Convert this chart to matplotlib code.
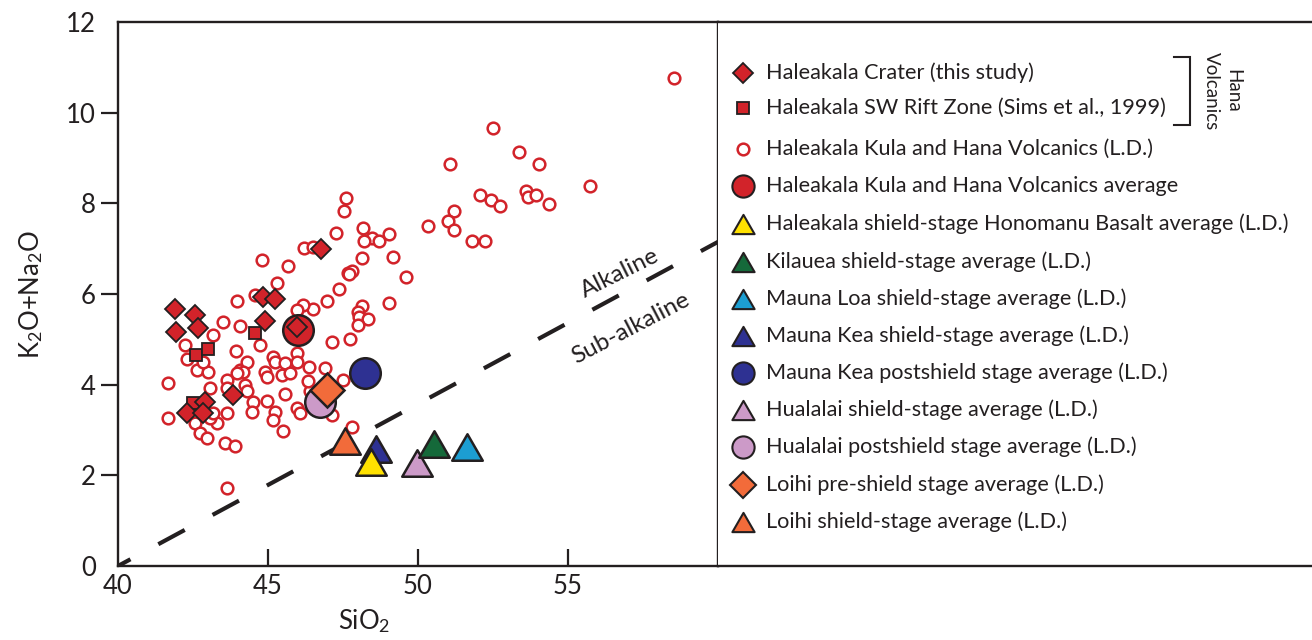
import matplotlib
matplotlib.use("Agg")
import matplotlib.pyplot as plt
from matplotlib.path import Path
from matplotlib.markers import MarkerStyle

plt.rcParams['font.family'] = ['Lato', 'DejaVu Sans']
plt.rcParams['mathtext.fontset'] = 'custom'
plt.rcParams['mathtext.rm'] = 'Lato'
plt.rcParams['mathtext.it'] = 'Lato:italic'
plt.rcParams['mathtext.bf'] = 'Lato:bold'

INK = '#231f20'
RED = '#d2232a'

# ---------------- data ----------------
# Haleakala Kula and Hana Volcanics (L.D.)
kula_sio2 = [44.79, 45.68, 45.29, 47.38, 46.96, 46.51, 46.18, 45.96, 43.96, 43.51,
             44.07, 43.18, 42.23, 42.31, 43.93, 44.73, 45.96, 47.12, 42.62, 43.01,
             42.84, 44.07, 44.29, 44.18, 43.96, 44.90, 45.18, 45.23, 45.46, 45.57,
             45.73, 45.96, 46.38, 46.90, 47.51, 44.96, 41.68, 43.07, 43.62, 43.62,
             44.23, 44.29, 45.57, 44.96, 44.51, 45.96, 45.23, 45.18, 45.51, 44.46,
             43.62, 43.29, 43.07, 41.68, 42.46, 42.57, 42.73, 42.96, 43.57, 43.90,
             43.62, 47.12, 46.07, 46.40, 43.18, 47.67, 47.59, 47.54, 47.27, 48.18,
             48.48, 48.71, 48.20, 49.04, 46.21, 46.51, 48.12, 49.16, 47.79, 47.71,
             44.57, 48.12, 48.01, 48.04, 48.34, 48.01, 49.04, 49.60, 58.54, 52.49,
             53.38, 51.07, 54.03, 55.73, 52.07, 52.42, 52.73, 53.59, 53.66, 53.93,
             54.37, 51.20, 51.01, 51.20, 50.34, 51.79, 52.23, 47.73, 46.34, 47.79]
kula_alk = [6.75, 6.62, 6.24, 6.10, 5.85, 5.66, 5.76, 5.65, 5.85, 5.38,
            5.30, 5.09, 4.88, 4.57, 4.75, 4.87, 4.69, 4.95, 4.32, 4.29,
            4.51, 4.32, 4.51, 4.29, 4.25, 4.29, 4.62, 4.51, 4.21, 4.47,
            4.25, 4.51, 4.38, 4.36, 4.10, 4.18, 4.03, 3.92, 4.10, 3.92,
            3.99, 3.85, 3.79, 3.64, 3.62, 3.48, 3.40, 3.22, 2.98, 3.40,
            3.37, 3.15, 3.26, 3.26, 3.55, 3.15, 2.93, 2.82, 2.72, 2.65,
            1.71, 3.33, 3.37, 3.87, 3.37, 6.46, 8.12, 7.84, 7.35, 7.46,
            7.24, 7.17, 7.17, 7.32, 7.02, 7.03, 6.80, 6.81, 6.51, 6.44,
            5.98, 5.74, 5.61, 5.50, 5.44, 5.31, 5.81, 6.38, 10.77, 9.66,
            9.14, 8.86, 8.86, 8.38, 8.18, 8.07, 7.94, 8.27, 8.15, 8.18,
            7.99, 7.84, 7.60, 7.41, 7.49, 7.18, 7.18, 5.00, 4.09, 3.07]

# Haleakala Crater (this study)
crater_sio2 = [41.90, 42.57, 41.93, 42.68, 44.84, 45.23, 44.90, 45.96, 43.84,
               42.29, 42.90, 42.84, 46.76]
crater_alk = [5.66, 5.54, 5.17, 5.24, 5.94, 5.88, 5.41, 5.28, 3.77,
              3.38, 3.62, 3.37, 6.99]

# Haleakala SW Rift Zone (Sims et al., 1999)
rift_sio2 = [44.57, 42.60, 43.01, 42.49]
rift_alk = [5.15, 4.65, 4.78, 3.60]

# Group averages: (SiO2, K2O+Na2O)
kula_avg = (46.01, 5.21)
honomanu_avg = (48.44, 2.29)
kilauea_avg = (50.54, 2.69)
mauna_loa_avg = (51.62, 2.63)
mauna_kea_shield_avg = (48.60, 2.57)
mauna_kea_post_avg = (48.23, 4.25)
hualalai_shield_avg = (49.98, 2.27)
hualalai_post_avg = (46.73, 3.62)
loihi_pre_avg = (46.96, 3.88)
loihi_shield_avg = (47.57, 2.75)

# Alkaline / sub-alkaline divide
divide_sio2 = [40.0, 60.0]
divide_alk = [0.0, 7.15]

x_ticks = [40, 45, 50, 55]
y_ticks = [0, 2, 4, 6, 8, 10, 12]

legend_labels = [
    'Haleakala Crater (this study)',
    'Haleakala SW Rift Zone (Sims et al., 1999)',
    'Haleakala Kula and Hana Volcanics (L.D.)',
    'Haleakala Kula and Hana Volcanics average',
    'Haleakala shield-stage Honomanu Basalt average (L.D.)',
    'Kilauea shield-stage average (L.D.)',
    'Mauna Loa shield-stage average (L.D.)',
    'Mauna Kea shield-stage average (L.D.)',
    'Mauna Kea postshield stage average (L.D.)',
    'Hualalai shield-stage average (L.D.)',
    'Hualalai postshield stage average (L.D.)',
    'Loihi pre-shield stage average (L.D.)',
    'Loihi shield-stage average (L.D.)',
]

# ---------------- styles ----------------
TRI = MarkerStyle(Path([(0, 0.5), (-0.577, -0.5), (0.577, -0.5), (0, 0.5)],
                       [Path.MOVETO, Path.LINETO, Path.LINETO, Path.CLOSEPOLY]),
                  joinstyle='miter')

YELLOW = '#ffe100'
GREEN = '#15693a'
CYAN = '#1c9ed2'
NAVY = '#2e3192'
MAUVE = '#cc9ac8'
ORANGE = '#f26b3a'

fig = plt.figure(figsize=(13.12, 6.4), dpi=100)
W, H = 1312.0, 640.0
left, right, bottom, top = 118, 718, 566, 22
ax = fig.add_axes([left / W, 1 - bottom / H, (right - left) / W, (bottom - top) / H])
lax = fig.add_axes([right / W, 1 - bottom / H, (W - right) / W, (bottom - top) / H])

# dividing line
ax.plot(divide_sio2, divide_alk, color=INK, lw=3.0, solid_capstyle='butt',
        dash_capstyle='butt', linestyle=(3.8, (7.2, 7.6)), zorder=1)

# Kula and Hana volcanics
ax.plot(kula_sio2, kula_alk, linestyle='none', marker='o', ms=8.4, mfc='white',
        mec=RED, mew=1.8, zorder=2)

big = dict(linestyle='none', mec=INK, mew=1.8, ms=22)
ax.plot(*kula_avg, marker='o', mfc=RED, zorder=4, **big)
ax.plot(*mauna_kea_post_avg, marker='o', mfc=NAVY, zorder=4, **big)
ax.plot(*hualalai_post_avg, marker='o', mfc=MAUVE, zorder=4, **big)
ax.plot(*loihi_pre_avg, marker='D', mfc=ORANGE, linestyle='none', mec=INK,
        mew=1.8, ms=17, zorder=5)
ax.plot(*loihi_shield_avg, marker=TRI, mfc=ORANGE, zorder=4, **big)
ax.plot(*mauna_kea_shield_avg, marker=TRI, mfc=NAVY, zorder=4, **big)
ax.plot(*honomanu_avg, marker=TRI, mfc=YELLOW, zorder=5, **big)
ax.plot(*hualalai_shield_avg, marker=TRI, mfc=MAUVE, zorder=4, **big)
ax.plot(*kilauea_avg, marker=TRI, mfc=GREEN, zorder=4, **big)
ax.plot(*mauna_loa_avg, marker=TRI, mfc=CYAN, zorder=4, **big)

ax.plot(rift_sio2, rift_alk, linestyle='none', marker='s', ms=8.5, mfc=RED,
        mec=INK, mew=1.3, zorder=6)
ax.plot(crater_sio2, crater_alk, linestyle='none', marker='D', ms=10, mfc=RED,
        mec=INK, mew=1.3, zorder=7)

ax.text(56.73, 6.46, 'Alkaline', rotation=26.5, ha='center', va='center',
        fontsize=17.5, color=INK, rotation_mode='anchor')
ax.text(57.1, 5.25, 'Sub-alkaline', rotation=27.5, ha='center', va='center',
        fontsize=17.5, color=INK, rotation_mode='anchor')

ax.set_xlim(40, 60)
ax.set_ylim(0, 12)
ax.set_xticks(x_ticks)
ax.set_yticks(y_ticks)
ax.tick_params(axis='x', direction='in', length=12, width=1.6, color=INK,
               labelsize=18.5, labelcolor=INK, pad=6)
ax.tick_params(axis='y', direction='out', length=12, width=1.6, color=INK,
               labelsize=18.5, labelcolor=INK, pad=4)
yt = ax.yaxis.get_major_ticks()
yt[0].tick1line.set_visible(False)
yt[-1].tick1line.set_visible(False)
ax.xaxis.get_major_ticks()[0].tick1line.set_visible(False)

ax.set_xlabel('SiO$_2$', fontsize=18.5, color=INK, labelpad=2)
ax.xaxis.set_label_coords(0.41, -0.075)
ax.set_ylabel('K$_2$O+Na$_2$O', fontsize=18.5, color=INK)
ax.yaxis.set_label_coords(-0.122, 0.5)
for s in ax.spines.values():
    s.set_color(INK)
    s.set_linewidth(1.7)

# ---------------- legend panel ----------------
lax.set_xlim(right, W)
lax.set_ylim(bottom, top)
lax.set_xticks([])
lax.set_yticks([])
lax.spines['left'].set_visible(False)
lax.spines['right'].set_visible(False)
for s in ('top', 'bottom'):
    lax.spines[s].set_color(INK)
    lax.spines[s].set_linewidth(1.7)

row_y = [73, 108, 149, 186, 224, 262, 299, 336, 373, 410, 447, 485, 522]
mx, tx = 743, 766
small_big = dict(mec=INK, mew=1.5, ms=16, linestyle='none')
legend_marks = [
    dict(marker='D', ms=10, mfc=RED, mec=INK, mew=1.3, linestyle='none'),
    dict(marker='s', ms=8.5, mfc=RED, mec=INK, mew=1.3, linestyle='none'),
    dict(marker='o', ms=8.4, mfc='white', mec=RED, mew=1.8, linestyle='none'),
    dict(marker='o', mfc=RED, **small_big),
    dict(marker=TRI, mfc=YELLOW, **small_big),
    dict(marker=TRI, mfc=GREEN, **small_big),
    dict(marker=TRI, mfc=CYAN, **small_big),
    dict(marker=TRI, mfc=NAVY, **small_big),
    dict(marker='o', mfc=NAVY, **small_big),
    dict(marker=TRI, mfc=MAUVE, **small_big),
    dict(marker='o', mfc=MAUVE, **small_big),
    dict(marker='D', ms=13, mfc=ORANGE, mec=INK, mew=1.5, linestyle='none'),
    dict(marker=TRI, mfc=ORANGE, **small_big),
]
for yy, lab, mk in zip(row_y, legend_labels, legend_marks):
    lax.plot([mx], [yy], clip_on=False, **mk)
    lax.text(tx, yy, lab, ha='left', va='center', fontsize=15.6, color=INK)

# bracket grouping the Hana Volcanics entries
lax.plot([1174, 1190, 1190, 1174], [57, 57, 125, 125], color=INK, lw=1.5,
         solid_joinstyle='miter')
lax.text(1222, 91, 'Hana\nVolcanics', rotation=-90, ha='center', va='center',
         multialignment='center', fontsize=13.5, color=INK, linespacing=1.3)

fig.savefig('out.png', dpi=100)
